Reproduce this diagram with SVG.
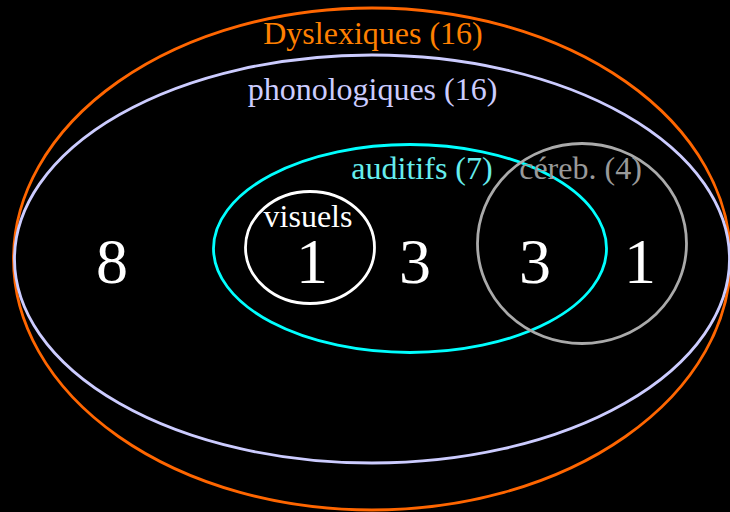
<svg xmlns="http://www.w3.org/2000/svg" width="730" height="512" viewBox="0 0 730 512">
<style>
.e{fill:none;stroke-width:2.8}
text{font-family:"Liberation Serif","Times New Roman",serif;text-anchor:middle}
.lab{font-size:32px}
.num{font-size:64px;fill:#ffffff}
</style>
<rect x="0" y="0" width="730" height="512" fill="#000000"/>
<g id="dyslexiques">
<ellipse class="e" cx="372" cy="259" rx="358.5" ry="251" stroke="#ff6600"/>
<text class="lab" x="373" y="44" fill="#ff8000">Dyslexiques (16)</text>
</g>
<g id="phonologiques">
<ellipse class="e" cx="372" cy="259" rx="357.5" ry="204" stroke="#ccccff"/>
<text class="lab" x="372.5" y="100" fill="#ccccff">phonologiques (16)</text>
</g>
<g id="auditifs">
<ellipse class="e" cx="410" cy="248.5" rx="196.5" ry="104" stroke="#00ffff"/>
<text class="lab" x="422" y="179" fill="#66eeee">auditifs (7)</text>
</g>
<g id="cereb">
<ellipse class="e" cx="582" cy="243.5" rx="104.5" ry="100" stroke="#aaaaaa"/>
<text class="lab" x="580.5" y="179" fill="#999999">céreb. (4)</text>
</g>
<g id="visuels">
<ellipse class="e" cx="310" cy="247.5" rx="64.5" ry="56" stroke="#ffffff"/>
<text class="lab" x="308" y="227" fill="#ffffff">visuels</text>
</g>
<g id="counts">
<text class="num" x="112" y="283">8</text>
<text class="num" x="312" y="283">1</text>
<text class="num" x="415" y="283">3</text>
<text class="num" x="535" y="283">3</text>
<text class="num" x="640" y="283">1</text>
</g>
<g id="connectors"/>
</svg>
